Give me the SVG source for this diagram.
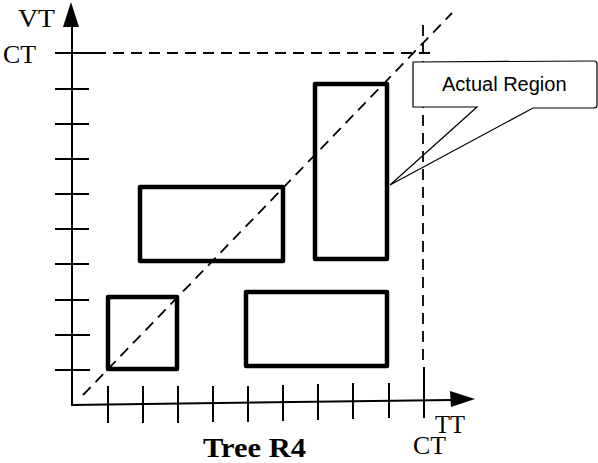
<svg xmlns="http://www.w3.org/2000/svg" width="598" height="463" viewBox="0 0 598 463">
<style>
.ax{stroke:#000;stroke-width:2;fill:none}
.tk{stroke:#000;stroke-width:2;fill:none}
.ds{stroke:#000;stroke-width:1.8;fill:none;stroke-dasharray:11 7}
.rg{stroke:#000;stroke-width:4.5;fill:none;stroke-linejoin:round}
.lb{font-family:"Liberation Serif","Times New Roman",serif;font-size:25px;fill:#000}
.cl{stroke:#000;stroke-width:1.2;fill:none}
</style>
<rect width="598" height="463" fill="#fff"/>
<g id="connectors">
<line class="ds" x1="95" y1="53" x2="436" y2="53"/>
<line class="ds" x1="423" y1="25" x2="423" y2="367"/>
<line class="tk" x1="424" y1="367" x2="424" y2="418"/>
<line class="ds" x1="83" y1="395" x2="452" y2="13"/>
</g>
<g id="axes">
<line class="ax" x1="72" y1="26" x2="72" y2="405"/>
<polygon points="71,2 63,27 79,27" fill="#000"/>
<line class="ax" x1="71" y1="405" x2="452" y2="400"/>
<polygon points="475,399 450,391 451,407" fill="#000"/>
<g class="tk">
<line x1="55" y1="53" x2="95" y2="53"/>
<line x1="55" y1="89" x2="89" y2="89"/>
<line x1="55" y1="124" x2="89" y2="124"/>
<line x1="55" y1="159" x2="89" y2="159"/>
<line x1="55" y1="194" x2="89" y2="194"/>
<line x1="55" y1="229" x2="89" y2="229"/>
<line x1="55" y1="264" x2="89" y2="264"/>
<line x1="55" y1="300" x2="89" y2="300"/>
<line x1="55" y1="335" x2="90" y2="335"/>
<line x1="55" y1="370" x2="90" y2="370"/>
<line x1="108" y1="386" x2="108" y2="423"/>
<line x1="143" y1="386" x2="143" y2="423"/>
<line x1="178" y1="386" x2="178" y2="423"/>
<line x1="213" y1="386" x2="213" y2="422"/>
<line x1="248" y1="386" x2="248" y2="422"/>
<line x1="283" y1="385" x2="283" y2="421"/>
<line x1="318" y1="384" x2="318" y2="420"/>
<line x1="353" y1="383" x2="353" y2="419"/>
<line x1="389" y1="383" x2="389" y2="418"/>
</g>
</g>
<g id="r1"><rect class="rg" x="108" y="297" width="69" height="72"/></g>
<g id="r2"><rect class="rg" x="140" y="187" width="143" height="74"/></g>
<g id="r3"><rect class="rg" x="246" y="292" width="141" height="74"/></g>
<g id="r4"><rect class="rg" x="315" y="84" width="72" height="175"/></g>
<g id="callout">
<rect x="413" y="62" width="184" height="45" fill="#fff"/>
<path class="cl" d="M413,62 L594,61 Q597,61 597,64 L597,105 Q597,108 594,108 L533,108 L390,185 L477,107 L413,107 Z"/>
<text x="442" y="91" font-family="'Liberation Sans',Arial,sans-serif" font-size="20" fill="#000">Actual Region</text>
</g>
<g id="labels">
<text class="lb" x="18" y="27" textLength="37" lengthAdjust="spacingAndGlyphs">VT</text>
<text class="lb" x="3" y="63" textLength="33" lengthAdjust="spacingAndGlyphs">CT</text>
<text class="lb" x="435" y="433" textLength="30" lengthAdjust="spacingAndGlyphs">TT</text>
<text class="lb" x="413" y="454" textLength="33" lengthAdjust="spacingAndGlyphs">CT</text>
<text x="203" y="457" font-family="'Liberation Serif','Times New Roman',serif" font-size="27" font-weight="bold" fill="#000" textLength="103" lengthAdjust="spacingAndGlyphs">Tree R4</text>
</g>
</svg>
